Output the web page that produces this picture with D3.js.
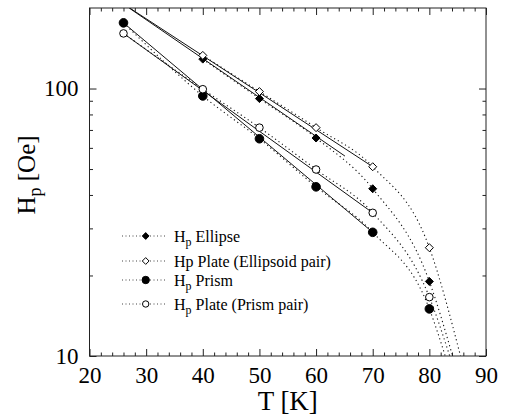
<!DOCTYPE html>
<html>
<head>
<meta charset="utf-8">
<script src="https://cdn.jsdelivr.net/npm/d3@7"></script>
<style>
  body { margin: 0; background: #fff; }
  svg { display: block; }
</style>
</head>
<body>
<svg id="chart" width="509" height="420"></svg>
<script>
// Penetration field H_p versus temperature for four sample geometries.

// Measured points
const ellipseT = [40, 50, 60, 70, 80];
const ellipseH = [128.8, 91.7, 65.3, 42.2, 19.0];
const plateEllT = [40, 50, 60, 70, 80];
const plateEllH = [133, 97.4, 71.4, 51.0, 25.4];
const prismT = [26, 40, 50, 60, 70, 80];
const prismH = [176, 93.8, 64.9, 42.9, 29.0, 15.0];
const platePrT = [26, 40, 50, 60, 70, 80];
const platePrH = [160.7, 99.4, 71.4, 49.8, 34.3, 16.6];

// Temperatures where each dotted curve reaches the 10 Oe floor
const ellipseEndT = 84.1;
const plateEllEndT = 85.5;
const prismEndT = 82.8;
const platePrEndT = 83.6;

// Straight (exponential) fits: start/end temperature and field
const ellipseFitT = [27.0, 65.1];
const ellipseFitH = [200, 55.9];
const plateEllFitT = [27.1, 70];
const plateEllFitH = [200, 51.0];
const prismFitT = [26, 70];
const prismFitH = [176, 29.0];
const platePrFitT = [26, 70];
const platePrFitH = [160.7, 34.3];

// Axis ticks
const xMajor = [20, 30, 40, 50, 60, 70, 80, 90];
const xMinor = d3.range(22, 90, 2).filter(v => v % 10 !== 0);
const yMajor = [10, 100];
const yMinor = [20, 30, 40, 50, 60, 70, 80, 90];

// Legend entries
const legendLabels = [["H", "p", " Ellipse"], ["Hp Plate (Ellipsoid pair)", "", ""], ["H", "p", " Prism"], ["H", "p", " Plate (Prism pair)"]];
const legendMarkers = ["diamondFilled", "diamondOpen", "circleFilled", "circleOpen"];

const serif = '"Liberation Serif", "Times New Roman", serif';
const svg = d3.select("#chart");
const plotLeft = 89.5, plotRight = 486, plotTop = 8, plotBottom = 356;

const x = d3.scaleLinear().domain([20, 90]).range([plotLeft, plotRight]);
const y = d3.scaleLog().domain([10, 200]).range([plotBottom, plotTop]);

const plot = svg.append("g");
plot.append("clipPath").attr("id", "clip")
  .append("rect").attr("x", plotLeft).attr("y", plotTop)
  .attr("width", plotRight - plotLeft).attr("height", plotBottom - plotTop);

// axes with inward ticks on all four sides
function styleAxis(g) {
  g.select(".domain").remove();
  g.attr("font-family", null).attr("font-size", null);
  g.selectAll("line").attr("stroke", "#222");
  g.selectAll("text").attr("fill", "#000").style("font-family", serif).attr("font-size", 23);
}
const fmt = d3.format("d");
svg.append("g").attr("transform", `translate(0,${plotBottom})`)
  .call(d3.axisBottom(x).tickValues(xMajor).tickSize(-7).tickPadding(11).tickFormat(fmt)).call(styleAxis);
svg.append("g").attr("transform", `translate(0,${plotBottom})`)
  .call(d3.axisBottom(x).tickValues(xMinor).tickSize(-3.5).tickFormat("")).call(styleAxis);
svg.append("g").attr("transform", `translate(0,${plotTop})`)
  .call(d3.axisTop(x).tickValues(xMajor).tickSize(-7).tickFormat("")).call(styleAxis);
svg.append("g").attr("transform", `translate(0,${plotTop})`)
  .call(d3.axisTop(x).tickValues(xMinor).tickSize(-3.5).tickFormat("")).call(styleAxis);
svg.append("g").attr("transform", `translate(${plotLeft},0)`)
  .call(d3.axisLeft(y).tickValues(yMajor).tickSize(-7).tickPadding(11).tickFormat(fmt)).call(styleAxis);
svg.append("g").attr("transform", `translate(${plotLeft},0)`)
  .call(d3.axisLeft(y).tickValues(yMinor).tickSize(-3.5).tickFormat("")).call(styleAxis);
svg.append("g").attr("transform", `translate(${plotRight},0)`)
  .call(d3.axisRight(y).tickValues(yMajor).tickSize(-7).tickFormat("")).call(styleAxis);
svg.append("g").attr("transform", `translate(${plotRight},0)`)
  .call(d3.axisRight(y).tickValues(yMinor).tickSize(-3.5).tickFormat("")).call(styleAxis);

svg.append("rect").attr("x", plotLeft).attr("y", plotTop)
  .attr("width", plotRight - plotLeft).attr("height", plotBottom - plotTop)
  .attr("fill", "none").attr("stroke", "#222").attr("stroke-width", 1);

// axis titles
svg.append("text").attr("x", (plotLeft + plotRight) / 2).attr("y", 410).attr("text-anchor", "middle")
  .style("font-family", serif).attr("font-size", 27).text("T [K]");
const yt = svg.append("text").attr("transform", "translate(35,175) rotate(-90)")
  .attr("text-anchor", "middle").style("font-family", serif).attr("font-size", 25);
yt.append("tspan").text("H");
yt.append("tspan").attr("font-size", 18).attr("dy", 6).text("p");
yt.append("tspan").attr("dy", -6).text(" [Oe]");

const zip = (ts, hs) => ts.map((t, i) => [t, hs[i]]);
const lineGen = d3.line().x(d => x(d[0])).y(d => y(d[1]));
const curveGen = d3.line().x(d => x(d[0])).y(d => y(d[1])).curve(d3.curveMonotoneX);

const series = [
  { t: ellipseT, h: ellipseH, end: ellipseEndT, ft: ellipseFitT, fh: ellipseFitH, m: "diamondFilled" },
  { t: plateEllT, h: plateEllH, end: plateEllEndT, ft: plateEllFitT, fh: plateEllFitH, m: "diamondOpen" },
  { t: prismT, h: prismH, end: prismEndT, ft: prismFitT, fh: prismFitH, m: "circleFilled" },
  { t: platePrT, h: platePrH, end: platePrEndT, ft: platePrFitT, fh: platePrFitH, m: "circleOpen" }
];

const lines = plot.append("g").attr("clip-path", "url(#clip)");
series.forEach(s => {
  lines.append("path").attr("d", lineGen(zip(s.ft, s.fh)))
    .attr("fill", "none").attr("stroke", "#111").attr("stroke-width", 1);
  lines.append("path").attr("d", curveGen(zip(s.t.concat([s.end]), s.h.concat([10]))))
    .attr("fill", "none").attr("stroke", "#111").attr("stroke-width", 1.1)
    .attr("stroke-dasharray", "1.2,3");
});

function marker(g, kind, cx, cy, r) {
  if (kind.startsWith("diamond")) {
    g.append("path").attr("d", `M${cx},${cy - r}L${cx + r},${cy}L${cx},${cy + r}L${cx - r},${cy}Z`)
      .attr("fill", kind === "diamondFilled" ? "#000" : "#fff").attr("stroke", "#000").attr("stroke-width", 1);
  } else {
    g.append("circle").attr("cx", cx).attr("cy", cy).attr("r", kind === "circleFilled" ? r : r - 0.5)
      .attr("fill", kind === "circleFilled" ? "#000" : "#fff").attr("stroke", "#000").attr("stroke-width", 1);
  }
}

const marks = plot.append("g");
series.forEach(s => {
  s.t.forEach((t, i) => marker(marks, s.m, x(t), y(s.h[i]), s.m.startsWith("diamond") ? 4 : 4.3));
});

// legend
const legendY = [236, 261, 280, 304];
const lg = svg.append("g");
legendLabels.forEach((lab, i) => {
  const ly = legendY[i];
  lg.append("line").attr("x1", 122).attr("x2", 167).attr("y1", ly).attr("y2", ly)
    .attr("stroke", "#444").attr("stroke-width", 1).attr("stroke-dasharray", "1,2.5");
  marker(lg, legendMarkers[i], 145.7, ly, legendMarkers[i].startsWith("diamond") ? 3.4 : 3.7);
  const tx = lg.append("text").attr("x", 174).attr("y", ly + 6)
    .style("font-family", serif).attr("font-size", 16);
  tx.append("tspan").text(lab[0]);
  if (lab[1]) {
    tx.append("tspan").attr("font-size", 12).attr("dy", 4).text(lab[1]);
    tx.append("tspan").attr("dy", -4).text(lab[2]);
  }
});
</script>
</body>
</html>
